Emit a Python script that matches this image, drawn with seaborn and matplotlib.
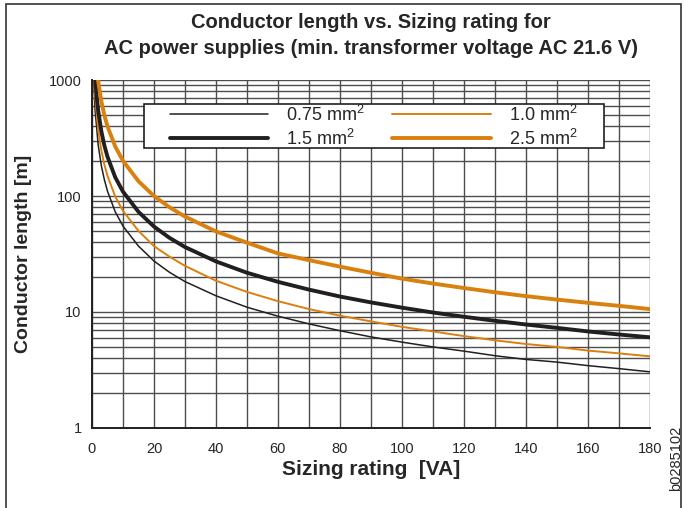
import matplotlib
matplotlib.use("Agg")
import matplotlib.pyplot as plt
import seaborn as sns
from matplotlib.patches import Rectangle
from matplotlib.ticker import FixedLocator, NullFormatter

# values
x_075 = [0.5, 1, 2, 3, 4, 5, 7.5, 10, 15, 20, 25, 30, 40, 50, 60, 70, 80, 90, 100, 110, 120, 130, 140, 150, 160, 170, 180]
y_075 = [1100, 550, 275, 183, 138, 110, 73, 55, 37, 27.5, 22, 18.3, 13.8, 11, 9.2, 7.9, 6.9, 6.1, 5.5, 5.0, 4.6, 4.2, 3.9, 3.7, 3.45, 3.25, 3.05]

x_10 = [0.7, 1, 2, 3, 4, 5, 7.5, 10, 15, 20, 25, 30, 40, 50, 60, 70, 80, 90, 100, 110, 120, 130, 140, 150, 160, 170, 180]
y_10 = [1060, 745, 373, 248, 186, 149, 99, 74.5, 50, 37, 30, 25, 18.6, 14.9, 12.4, 10.6, 9.3, 8.3, 7.45, 6.8, 6.2, 5.7, 5.3, 5.0, 4.65, 4.4, 4.15]

x_15 = [1.1, 1.5, 2, 3, 4, 5, 7.5, 10, 15, 20, 25, 30, 40, 50, 60, 70, 80, 90, 100, 110, 120, 130, 140, 150, 160, 170, 180]
y_15 = [990, 727, 545, 363, 272, 218, 145, 109, 73, 54.5, 43.6, 36.3, 27.3, 21.8, 18.2, 15.6, 13.6, 12.1, 10.9, 9.9, 9.1, 8.4, 7.8, 7.3, 6.8, 6.4, 6.05]

x_25 = [1.8, 2, 3, 4, 5, 7.5, 10, 15, 20, 25, 30, 40, 50, 60, 70, 80, 90, 100, 110, 120, 130, 140, 150, 160, 170, 180]
y_25 = [1080, 980, 660, 495, 398, 267, 201, 134, 100, 80, 66.5, 49.5, 39.6, 32, 28, 24.6, 21.8, 19.4, 17.6, 16.1, 14.8, 13.7, 12.8, 12, 11.3, 10.6]

labels = ["0.75 mm$^2$", "1.0 mm$^2$", "1.5 mm$^2$", "2.5 mm$^2$"]
black = "#231f20"
orange = "#d9800f"

sns.set_style("white")
plt.rcParams['font.family'] = ['Liberation Sans Narrow', 'Liberation Sans', 'DejaVu Sans']
plt.rcParams['mathtext.fontset'] = 'custom'
plt.rcParams['mathtext.rm'] = 'Liberation Sans'
plt.rcParams['mathtext.it'] = 'Liberation Sans'
plt.rcParams['mathtext.default'] = 'regular'

fig = plt.figure(figsize=(6.84, 5.08), dpi=100)
ax = fig.add_axes([0.1345, 0.1575, 0.8155, 0.685])

# frame around the figure
fig.patches.append(Rectangle((6 / 684, -0.01), 675 / 684, 1.0 - 4 / 508 + 0.01,
                             transform=fig.transFigure, fill=False,
                             edgecolor="#333333", linewidth=1.2))

sns.lineplot(x=x_075, y=y_075, ax=ax, color=black, linewidth=1.1, label=labels[0])
sns.lineplot(x=x_10, y=y_10, ax=ax, color=orange, linewidth=1.4, label=labels[1])
sns.lineplot(x=x_15, y=y_15, ax=ax, color=black, linewidth=2.8, label=labels[2])
sns.lineplot(x=x_25, y=y_25, ax=ax, color=orange, linewidth=2.8, label=labels[3])

ax.set_yscale("log")
ax.set_xlim(0, 180)
ax.set_ylim(1, 1000)

ax.set_xticks(range(0, 181, 20))
ax.xaxis.set_minor_locator(FixedLocator(range(10, 180, 20)))
ax.set_yticks([1, 10, 100, 1000])
ax.set_yticklabels(["1", "10", "100", "1000"])
ax.yaxis.set_minor_formatter(NullFormatter())

ax.grid(True, which="both", axis="both", color="#4d4d4d", linewidth=1.0)
ax.tick_params(axis="both", which="major", labelsize=10.5, length=4, width=1,
               color=black, direction="out")
ax.tick_params(axis="y", which="minor", length=0)
ax.tick_params(axis="x", which="minor", length=0)
ax.tick_params(axis="x", pad=6)

for side in ["top", "right"]:
    ax.spines[side].set_visible(False)
for side in ["left", "bottom"]:
    ax.spines[side].set_color(black)
    ax.spines[side].set_linewidth(1.4)

ax.set_xlabel("Sizing rating  [VA]", fontsize=15, fontweight="bold", labelpad=3)
ax.set_ylabel("Conductor length [m]", fontsize=14, fontweight="bold",
              family=["Liberation Sans", "DejaVu Sans"], labelpad=12)

fig.text(0.542, 0.955, "Conductor length vs. Sizing rating for", ha="center",
         va="center", fontsize=14.5, fontweight="bold")
fig.text(0.542, 0.905, "AC power supplies (min. transformer voltage AC 21.6 V)",
         ha="center", va="center", fontsize=14.5, fontweight="bold")

fig.text(0.988, 0.098, "b0285102", rotation=90, ha="center", va="center",
         fontsize=10.5, family=["Liberation Sans", "DejaVu Sans"])

# legend box drawn separately (wider side padding than top/bottom)
ax.add_patch(Rectangle((0.0932, 0.8055), 0.8244, 0.1245, transform=ax.transAxes,
                       facecolor="white", edgecolor=black, linewidth=1.2, zorder=4))

h, l = ax.get_legend_handles_labels()
order = [0, 2, 1, 3]
leg = ax.legend([h[i] for i in order], [l[i] for i in order], ncol=2,
                loc="upper left", bbox_to_anchor=(0.1398, 0.929),
                frameon=False, borderaxespad=0, borderpad=0,
                handlelength=5.45, handletextpad=1.0, columnspacing=1.5,
                labelspacing=0.2,
                prop={"family": ["Liberation Sans", "DejaVu Sans"], "size": 13})
leg.set_zorder(5)

fig.savefig("out.png", dpi=100)
